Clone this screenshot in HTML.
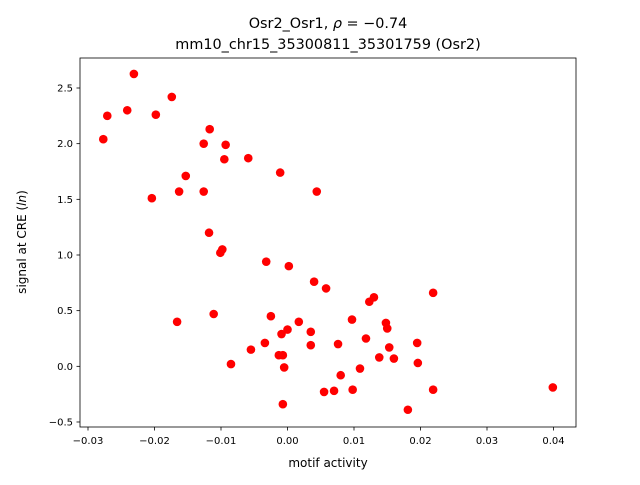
<!DOCTYPE html>
<html><head><meta charset="utf-8"><style>
body{margin:0;background:#fff;}
text{font-family:"DejaVu Sans","Liberation Sans",sans-serif;fill:#000;}
</style></head><body>
<svg id="chart" width="640" height="480" xmlns="http://www.w3.org/2000/svg">
<rect width="640" height="480" fill="#fff"/>
<text x="328" y="28" font-size="14.4" text-anchor="middle">Osr2_Osr1, <tspan font-style="italic">ρ</tspan> = −0.74</text>
<text x="328" y="49" font-size="14.4" text-anchor="middle">mm10_chr15_35300811_35301759 (Osr2)</text>
<g id="plot"></g>
<text x="328" y="467" font-size="12" text-anchor="middle">motif activity</text>
<text transform="translate(26,242) rotate(-90)" font-size="12" text-anchor="middle">signal at CRE (<tspan font-style="italic">ln</tspan>)</text>
</svg>
<script>
const xs=[-0.0231,-0.0271,-0.0241,-0.0277,-0.0198,-0.0174,-0.0117,-0.0126,-0.0093,-0.0095,-0.0059,-0.0011,0.0044,-0.0153,-0.0163,-0.0126,-0.0204,-0.0118,-0.0098,-0.0101,-0.0032,0.0002,0.0040,0.0058,0.0219,-0.0166,-0.0111,-0.0025,0.0017,0.0097,0.0130,0.0123,0.0148,0.0150,0.0118,0.0035,0.0000,-0.0009,-0.0034,0.0035,0.0076,0.0195,-0.0055,-0.0013,-0.0007,0.0138,0.0160,0.0153,0.0196,-0.0085,-0.0005,0.0109,0.0080,0.0055,0.0070,0.0098,0.0219,0.0399,-0.0007,0.0181];
const ys=[2.626,2.25,2.30,2.04,2.26,2.42,2.13,2.00,1.99,1.86,1.87,1.74,1.57,1.71,1.57,1.57,1.51,1.20,1.05,1.02,0.94,0.90,0.76,0.70,0.66,0.40,0.47,0.45,0.40,0.42,0.62,0.58,0.39,0.34,0.25,0.31,0.33,0.29,0.21,0.19,0.20,0.21,0.15,0.10,0.10,0.08,0.07,0.17,0.03,0.02,-0.01,-0.02,-0.08,-0.23,-0.22,-0.21,-0.21,-0.19,-0.34,-0.39];
const xTicks=[-0.03,-0.02,-0.01,0.00,0.01,0.02,0.03,0.04];
const xTickLabels=["−0.03","−0.02","−0.01","0.00","0.01","0.02","0.03","0.04"];
const yTicks=[-0.5,0.0,0.5,1.0,1.5,2.0,2.5];
const yTickLabels=["−0.5","0.0","0.5","1.0","1.5","2.0","2.5"];
const L=80,R=576,T=58,B=427;
const X=v=>88+(v+0.03)*6650;
const Y=v=>88+(2.5-v)*111.33;
const g=document.getElementById('plot');
const NS='http://www.w3.org/2000/svg';
function mk(t,a){const e=document.createElementNS(NS,t);for(const k in a)e.setAttribute(k,a[k]);g.appendChild(e);return e;}
xs.forEach((x,i)=>{const c=mk('circle',{cx:X(x),cy:Y(ys[i]),r:4.3,fill:'#ff0000'});

});
xTicks.forEach((t,i)=>{const l=mk('line',{x1:X(t),x2:X(t),y1:B,y2:B+3.5,stroke:'#000','stroke-width':0.8});


const tx=mk('text',{x:X(t),y:B+17,'font-size':10,'text-anchor':'middle'});tx.textContent=xTickLabels[i];

});
yTicks.forEach((t,i)=>{const l=mk('line',{x1:L-3.5,x2:L,y1:Y(t),y2:Y(t),stroke:'#000','stroke-width':0.8});


const tx=mk('text',{x:L-7,y:Y(t)+3.5,'font-size':10,'text-anchor':'end'});tx.textContent=yTickLabels[i];

});
const f=mk('rect',{x:L,y:T,width:R-L,height:B-T,fill:'none',stroke:'#000','stroke-width':0.8});


</script>
</body></html>
